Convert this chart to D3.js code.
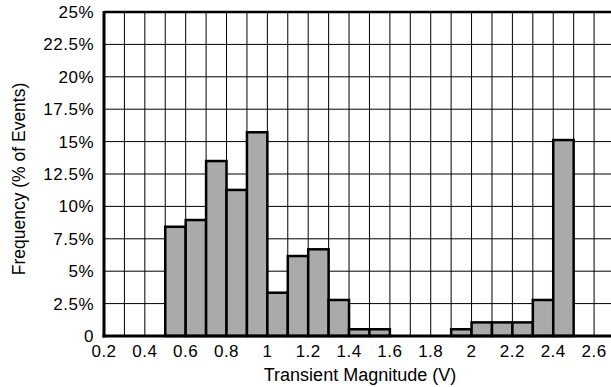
<!DOCTYPE html>
<html>
<head>
<meta charset="utf-8">
<script src="https://cdn.jsdelivr.net/npm/d3@7"></script>
<style>
  body { margin: 0; background: #fff; }
  svg text { font-family: "Liberation Sans", Arial, sans-serif; fill: #000; }
</style>
</head>
<body>
<div id="chart"></div>
<script>
// histogram bins (lower edge, V) and share of events in each (%)
var binStart = [0.5, 0.6, 0.7, 0.8, 0.9, 1.0, 1.1, 1.2, 1.3, 1.4, 1.5, 1.9, 2.0, 2.1, 2.2, 2.3, 2.4];
var freq = [8.43, 8.95, 13.5, 11.27, 15.72, 3.34, 6.17, 6.69, 2.78, 0.52, 0.52, 0.52, 1.05, 1.05, 1.05, 2.78, 15.12];
var binWidth = 0.1;

var xTicks = [0.2, 0.4, 0.6, 0.8, 1.0, 1.2, 1.4, 1.6, 1.8, 2.0, 2.2, 2.4, 2.6];
var yTicks = [0, 2.5, 5, 7.5, 10, 12.5, 15, 17.5, 20, 22.5, 25];
var xGrid = d3.range(3, 27).map(function(d) { return d / 10; });

var W = 611, H = 387;
var plotL = 104, plotT = 12, plotB = 336;

var svg = d3.select('#chart').append('svg')
    .attr('width', W)
    .attr('height', H);

// the plot runs to 2.7 V and is cut off by the right edge
var x = d3.scaleLinear().domain([0.2, 2.7]).range([plotL, plotL + 25 * 20.42]);
var y = d3.scaleLinear().domain([0, 25]).range([plotB, plotT]);

// grid
svg.append('g').selectAll('line')
    .data(xGrid)
  .enter().append('line')
    .attr('x1', function(d) { return x(d); })
    .attr('x2', function(d) { return x(d); })
    .attr('y1', plotT)
    .attr('y2', plotB)
    .attr('stroke', '#000')
    .attr('stroke-width', 1);

svg.append('g').selectAll('line')
    .data(yTicks.slice(1, -1))
  .enter().append('line')
    .attr('x1', plotL)
    .attr('x2', W + 10)
    .attr('y1', function(d) { return y(d); })
    .attr('y2', function(d) { return y(d); })
    .attr('stroke', '#000')
    .attr('stroke-width', 1);

// bars
svg.append('g').selectAll('rect')
    .data(binStart)
  .enter().append('rect')
    .attr('x', function(d) { return x(d); })
    .attr('width', function(d) { return x(d + binWidth) - x(d); })
    .attr('y', function(d, i) { return y(freq[i]); })
    .attr('height', function(d, i) { return y(0) - y(freq[i]); })
    .attr('fill', '#aaaaaa')
    .attr('stroke', '#000')
    .attr('stroke-width', 2.5);

// frame: left, bottom, top
svg.append('line')
    .attr('x1', plotL).attr('x2', plotL)
    .attr('y1', plotT - 1).attr('y2', plotB + 1.5)
    .attr('stroke', '#000').attr('stroke-width', 3);
svg.append('line')
    .attr('x1', plotL - 1.5).attr('x2', W + 10)
    .attr('y1', plotB).attr('y2', plotB)
    .attr('stroke', '#000').attr('stroke-width', 3);
svg.append('line')
    .attr('x1', plotL).attr('x2', W + 10)
    .attr('y1', plotT).attr('y2', plotT)
    .attr('stroke', '#000').attr('stroke-width', 2.5);

// tick labels
svg.append('g').selectAll('text')
    .data(xTicks)
  .enter().append('text')
    .attr('x', function(d) { return x(d); })
    .attr('y', 357)
    .attr('text-anchor', 'middle')
    .style('font-size', '17px')
    .style('letter-spacing', '0.5px')
    .text(function(d) { return +d.toFixed(1); });

svg.append('g').selectAll('text')
    .data(yTicks)
  .enter().append('text')
    .attr('x', 94)
    .attr('y', function(d) { return y(d) + 6; })
    .attr('text-anchor', 'end')
    .style('font-size', '17px')
    .style('letter-spacing', '0.5px')
    .text(function(d) { return d === 0 ? '0' : d + '%'; });

// axis titles
svg.append('text')
    .attr('x', 360)
    .attr('y', 381)
    .attr('text-anchor', 'middle')
    .style('font-size', '18px')
    .text('Transient Magnitude (V)');

svg.append('text')
    .attr('transform', 'translate(25,179) rotate(-90)')
    .attr('text-anchor', 'middle')
    .style('font-size', '17.5px')
    .text('Frequency (% of Events)');
</script>
</body>
</html>
